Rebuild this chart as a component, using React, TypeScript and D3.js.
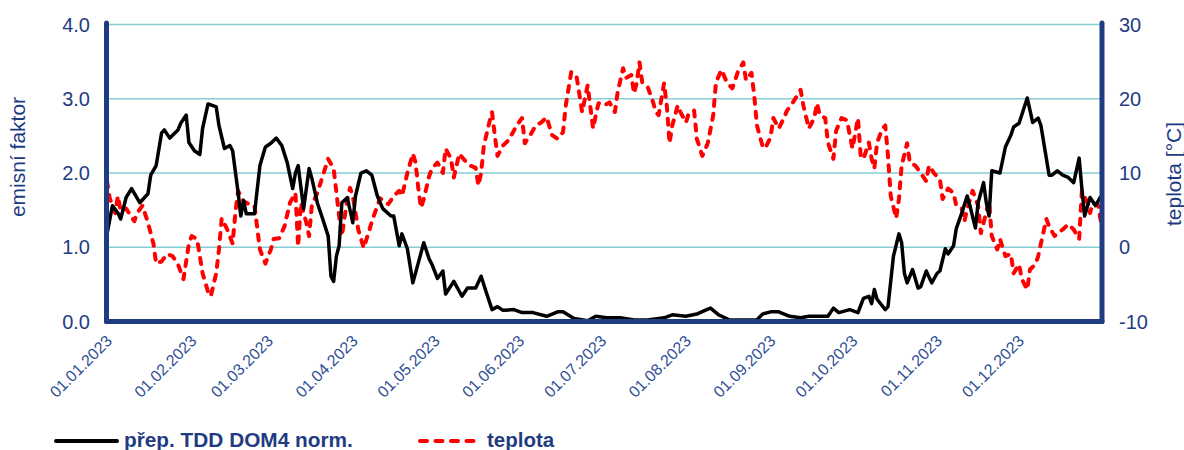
import React, { useEffect, useRef } from "react";
import * as d3 from "d3";

// day of year (0 = 01.01.2023) and values
const emisDays = [0, 2, 4, 5, 7, 9, 12, 15, 16, 18, 20, 21, 23, 26, 27, 29, 30, 32, 34, 35, 37, 40, 41, 43, 45, 46, 48, 49, 50, 51, 54, 56, 58, 60, 62, 64, 66, 68, 69, 70, 72, 74, 75, 77, 79, 81, 82, 83, 84, 85, 86, 88, 90, 91, 93, 95, 97, 99, 101, 104, 105, 107, 108, 110, 112, 114, 116, 118, 119, 121, 123, 124, 127, 130, 132, 135, 137, 139, 141, 143, 145, 149, 152, 156, 161, 165, 167, 171, 176, 179, 183, 188, 193, 198, 204, 207, 212, 216, 219, 221, 224, 228, 233, 238, 240, 243, 246, 250, 254, 257, 261, 264, 266, 268, 272, 275, 277, 279, 280, 281, 282, 285, 286, 288, 290, 291, 292, 293, 295, 297, 298, 300, 302, 304, 305, 307, 308, 310, 311, 313, 315, 316, 318, 319, 321, 322, 323, 324, 327, 329, 331, 332, 334, 337, 339, 341, 342, 345, 346, 348, 350, 352, 354, 356, 357, 358, 360, 362, 364];
const emisValues = [1.18, 1.56, 1.46, 1.38, 1.67, 1.79, 1.6, 1.72, 1.97, 2.1, 2.54, 2.58, 2.47, 2.58, 2.67, 2.78, 2.41, 2.3, 2.25, 2.6, 2.93, 2.89, 2.64, 2.33, 2.37, 2.3, 1.74, 1.42, 1.63, 1.45, 1.45, 2.1, 2.35, 2.4, 2.47, 2.37, 2.14, 1.79, 2.0, 2.1, 1.52, 2.06, 1.93, 1.6, 1.38, 1.15, 0.61, 0.54, 0.88, 1.02, 1.6, 1.67, 1.33, 1.69, 2.0, 2.03, 1.97, 1.69, 1.52, 1.42, 1.42, 1.02, 1.18, 0.98, 0.52, 0.79, 1.06, 0.84, 0.77, 0.58, 0.68, 0.37, 0.54, 0.34, 0.45, 0.45, 0.61, 0.38, 0.16, 0.2, 0.15, 0.16, 0.12, 0.12, 0.07, 0.13, 0.13, 0.04, 0.01, 0.07, 0.05, 0.05, 0.02, 0.02, 0.05, 0.09, 0.07, 0.1, 0.15, 0.18, 0.09, 0.02, 0.02, 0.02, 0.1, 0.13, 0.13, 0.07, 0.05, 0.07, 0.07, 0.07, 0.18, 0.12, 0.16, 0.12, 0.31, 0.34, 0.24, 0.43, 0.3, 0.16, 0.2, 0.88, 1.18, 1.06, 0.65, 0.52, 0.7, 0.45, 0.47, 0.68, 0.52, 0.65, 0.68, 0.98, 0.91, 1.02, 1.25, 1.46, 1.69, 1.56, 1.26, 1.6, 1.87, 1.6, 1.42, 2.03, 2.0, 2.35, 2.51, 2.62, 2.67, 3.01, 2.68, 2.74, 2.64, 1.97, 1.97, 2.03, 1.97, 1.94, 1.87, 2.2, 1.79, 1.42, 1.67, 1.56, 1.69];

const tempDays = [0, 1, 3, 4, 5, 7, 10, 11, 13, 15, 17, 18, 20, 22, 24, 26, 28, 30, 31, 33, 35, 37, 38, 40, 41, 42, 44, 46, 47, 48, 50, 52, 54, 56, 58, 60, 61, 63, 65, 67, 69, 70, 71, 73, 74, 75, 77, 79, 81, 83, 85, 86, 88, 89, 90, 92, 94, 96, 97, 100, 103, 105, 107, 108, 110, 112, 113, 114, 115, 116, 118, 119, 121, 123, 124, 126, 127, 129, 131, 133, 135, 136, 137, 138, 140, 141, 142, 143, 145, 147, 149, 150, 152, 153, 155, 157, 159, 161, 163, 165, 167, 168, 170, 172, 174, 176, 178, 179, 180, 182, 184, 186, 187, 189, 190, 192, 193, 194, 195, 196, 198, 200, 201, 202, 204, 205, 206, 207, 209, 210, 212, 213, 215, 216, 218, 220, 222, 223, 225, 227, 229, 231, 233, 234, 236, 237, 238, 240, 241, 243, 244, 246, 248, 249, 251, 254, 255, 257, 259, 260, 261, 263, 264, 266, 267, 269, 271, 272, 273, 275, 276, 277, 279, 280, 281, 282, 284, 285, 286, 287, 289, 290, 291, 293, 294, 296, 298, 300, 301, 303, 305, 306, 308, 310, 311, 313, 314, 315, 317, 319, 320, 321, 323, 324, 326, 327, 329, 331, 332, 334, 335, 337, 338, 340, 341, 342, 344, 345, 347, 348, 350, 352, 354, 356, 357, 359, 360, 361, 363, 364];
const tempValues = [8.9, 6.6, 4.6, 6.9, 4.9, 5.2, 3.5, 4.6, 5.6, 3.3, 0.5, -2.2, -1.9, -0.9, -1.2, -2.3, -4.3, 0.5, 1.5, 1.1, -3.5, -6.0, -6.6, -3.5, -0.3, 3.9, 2.4, 0.5, 4.6, 7.6, 6.2, 5.8, 5.6, -0.3, -2.2, -0.3, 1.1, 1.2, 2.8, 6.0, 7.3, 0.1, 6.0, 3.3, 1.5, 5.6, 7.3, 9.6, 11.9, 10.6, 4.2, 1.5, 6.5, 8.0, 6.9, 2.4, -0.1, 2.2, 3.5, 6.6, 5.8, 6.9, 7.6, 6.9, 10.0, 12.6, 11.4, 7.9, 5.3, 6.5, 9.6, 10.6, 11.4, 10.0, 13.3, 11.9, 9.4, 12.6, 11.7, 11.0, 10.7, 8.3, 10.0, 13.7, 16.8, 18.2, 15.1, 12.3, 13.7, 14.4, 15.7, 16.4, 17.4, 14.0, 15.1, 16.4, 16.8, 17.5, 15.1, 14.6, 15.5, 19.1, 23.6, 22.9, 18.2, 21.8, 16.0, 17.8, 19.4, 19.1, 19.5, 18.2, 20.9, 24.1, 22.8, 23.2, 20.7, 22.2, 24.9, 22.2, 21.6, 19.5, 18.2, 17.8, 22.1, 19.1, 14.0, 16.4, 19.1, 18.2, 16.8, 18.0, 18.4, 14.6, 12.3, 14.0, 17.8, 22.2, 23.9, 22.2, 21.4, 23.6, 24.9, 22.5, 23.5, 20.5, 16.4, 13.7, 13.3, 14.8, 17.4, 16.0, 17.5, 18.4, 19.4, 21.2, 19.1, 16.0, 17.4, 19.4, 17.8, 17.4, 14.1, 11.9, 15.7, 17.4, 17.1, 15.1, 13.3, 17.4, 12.3, 11.9, 14.1, 11.9, 10.6, 14.1, 16.0, 16.4, 12.3, 6.9, 3.9, 6.5, 11.0, 14.0, 11.4, 11.0, 10.0, 8.9, 11.0, 9.9, 9.2, 6.5, 7.9, 7.3, 5.6, 5.2, 3.5, 5.2, 7.6, 5.6, 1.9, 3.3, 6.2, 1.5, -0.3, 1.1, -1.2, -0.9, -3.5, -2.3, -4.3, -5.7, -3.0, -2.3, -1.2, 0.5, 3.8, 2.8, 1.5, 1.9, 2.4, 3.1, 2.4, 1.1, 7.6, 6.0, 4.6, 6.0, 5.6, 3.3];

const leftTicks = [0, 1, 2, 3, 4];
const rightTicks = [-10, 0, 10, 20, 30];
const monthStarts = d3.range(0, 12).map((m) => new Date(2023, m, 1));

const seriesNames = ["přep. TDD DOM4 norm.", "teplota"];
const leftTitle = "emisní faktor";
const rightTitle = "teplota [°C]";

const W = 1184;
const H = 450;
const navy = "#1f3c82";
const font = "'Liberation Sans', Arial, sans-serif";

const toDate = (d) => new Date(2023, 0, 1 + d);

const App = () => {
	const ref = useRef(null);

	useEffect(() => {
		const svg = d3.select(ref.current);

		const x = d3
			.scaleTime()
			.domain([new Date(2023, 0, 1), new Date(2023, 11, 31)])
			.range([107, 1101]);
		const yL = d3.scaleLinear().domain([0, 4]).range([321.5, 24.5]);
		const yR = d3.scaleLinear().domain([-10, 30]).range([321.5, 24.5]);

		// gridlines
		svg
			.append("g")
			.selectAll("line")
			.data(leftTicks.filter((t) => t > 0))
			.enter()
			.append("line")
			.attr("x1", 107)
			.attr("x2", 1102)
			.attr("y1", (d) => yL(d))
			.attr("y2", (d) => yL(d))
			.attr("stroke", "#86cdd6")
			.attr("stroke-width", 1.5);

		// temperature line
		const tempData = tempDays.map((d, i) => ({ date: toDate(d), v: tempValues[i] }));
		svg
			.append("path")
			.datum(tempData)
			.attr("fill", "none")
			.attr("stroke", "#ff0000")
			.attr("stroke-width", 4)
			.attr("stroke-dasharray", "6,8")
			.attr("stroke-linecap", "round")
			.attr("stroke-linejoin", "round")
			.attr(
				"d",
				d3
					.line()
					.x((d) => x(d.date))
					.y((d) => yR(d.v))
			);

		// emission factor line
		const emisData = emisDays.map((d, i) => ({ date: toDate(d), v: emisValues[i] }));
		svg
			.append("path")
			.datum(emisData)
			.attr("fill", "none")
			.attr("stroke", "#000")
			.attr("stroke-width", 3.5)
			.attr("stroke-linejoin", "round")
			.attr(
				"d",
				d3
					.line()
					.x((d) => x(d.date))
					.y((d) => yL(d.v))
			);

		// axis frame: left, right, bottom
		const frame = svg
			.append("g")
			.attr("stroke", navy)
			.attr("stroke-width", 5)
			.attr("stroke-linecap", "round");
		frame.append("line").attr("x1", 106.5).attr("x2", 106.5).attr("y1", 23).attr("y2", 321.5);
		frame.append("line").attr("x1", 1102).attr("x2", 1102).attr("y1", 23).attr("y2", 321.5);
		frame.append("line").attr("x1", 106.5).attr("x2", 1102).attr("y1", 321.5).attr("y2", 321.5);

		// left ticks
		svg
			.append("g")
			.selectAll("text")
			.data(leftTicks)
			.enter()
			.append("text")
			.attr("x", 90)
			.attr("y", (d) => yL(d))
			.attr("dy", "0.36em")
			.attr("text-anchor", "end")
			.attr("font-family", font)
			.attr("font-size", 20)
			.attr("fill", navy)
			.text((d) => d3.format(".1f")(d));

		// right ticks
		svg
			.append("g")
			.selectAll("text")
			.data(rightTicks)
			.enter()
			.append("text")
			.attr("x", 1119)
			.attr("y", (d) => yR(d))
			.attr("dy", "0.36em")
			.attr("font-family", font)
			.attr("font-size", 20)
			.attr("fill", navy)
			.text((d) => d);

		// axis titles
		svg
			.append("text")
			.attr("transform", "translate(25,157) rotate(-90)")
			.attr("text-anchor", "middle")
			.attr("font-family", font)
			.attr("font-size", 21)
			.attr("fill", navy)
			.text(leftTitle);
		svg
			.append("text")
			.attr("transform", "translate(1181,174) rotate(-90)")
			.attr("text-anchor", "middle")
			.attr("font-family", font)
			.attr("font-size", 21)
			.attr("fill", navy)
			.text(rightTitle);

		// x tick labels
		svg
			.append("g")
			.selectAll("text")
			.data(monthStarts)
			.enter()
			.append("text")
			.attr("transform", (d) => "translate(" + (x(d) + 6) + ",342) rotate(-45)")
			.attr("text-anchor", "end")
			.attr("font-family", font)
			.attr("font-size", 16)
			.attr("fill", "#2f4e95")
			.text((d) => d3.timeFormat("%d.%m.%Y")(d));

		// legend
		const legend = svg.append("g");
		legend
			.append("line")
			.attr("x1", 56)
			.attr("x2", 117)
			.attr("y1", 441)
			.attr("y2", 441)
			.attr("stroke", "#000")
			.attr("stroke-width", 4)
			.attr("stroke-linecap", "round");
		legend
			.append("text")
			.attr("x", 124)
			.attr("y", 447)
			.attr("font-family", font)
			.attr("font-size", 20.8)
			.attr("font-weight", "bold")
			.attr("fill", navy)
			.text(seriesNames[0]);
		legend
			.append("line")
			.attr("x1", 420)
			.attr("x2", 480)
			.attr("y1", 441)
			.attr("y2", 441)
			.attr("stroke", "#ff0000")
			.attr("stroke-width", 4)
			.attr("stroke-dasharray", "7,8.5")
			.attr("stroke-linecap", "round");
		legend
			.append("text")
			.attr("x", 487)
			.attr("y", 447)
			.attr("font-family", font)
			.attr("font-size", 20.5)
			.attr("font-weight", "bold")
			.attr("fill", navy)
			.text(seriesNames[1]);

		return () => {
			svg.selectAll("*").remove();
		};
	}, []);

	return (
		<svg
			ref={ref}
			width={W}
			height={H}
			style={{ position: "absolute", left: 0, top: 0, background: "#fff" }}
		></svg>
	);
};

export default App;
